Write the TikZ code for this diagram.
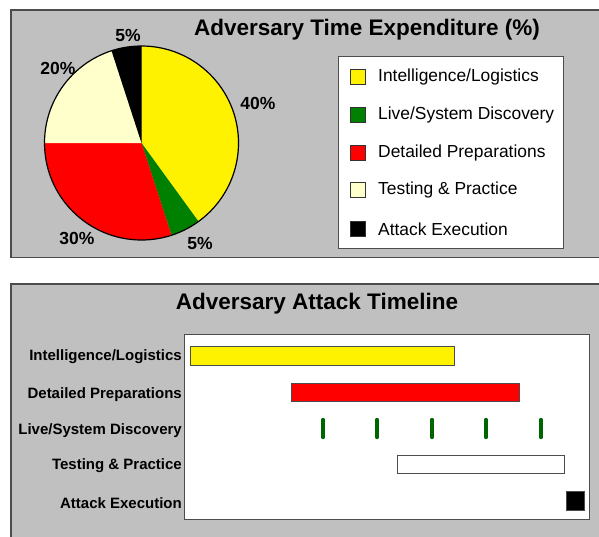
\documentclass[tikz,border=0pt]{standalone}
\usepackage{fontspec}
\setmainfont{Liberation Sans}
\definecolor{panelgray}{HTML}{C0C0C0}
\definecolor{cream}{HTML}{FFFFCC}
\definecolor{dgreen}{HTML}{008000}
\definecolor{tickgreen}{HTML}{006400}
\begin{document}
\begin{tikzpicture}[x=1pt,y=-1pt,
  panel/.style={fill=panelgray,draw=black!70,line width=1.2pt},
  title/.style={font=\fontsize{22.5}{27}\selectfont\bfseries},
  pct/.style={font=\fontsize{17.5}{21}\selectfont\bfseries},
  legtext/.style={font=\fontsize{17.4}{20}\selectfont,anchor=west,inner sep=0pt},
  legsq/.style={draw=black!80,line width=0.6pt,minimum size=15.5pt,inner sep=0pt},
  rowlab/.style={font=\fontsize{15}{18}\selectfont\bfseries,anchor=east,inner sep=0pt},
  bar/.style={draw=black!70,line width=0.8pt},
  tk/.style={draw=tickgreen,line width=3.3pt,line cap=round}]
\useasboundingbox (0,0) rectangle (599,536);
\fill[white] (0,0) rectangle (599,536);
% top panel
\path[panel] (11,10) rectangle (606,257.5);
\node[title] (t1) at (367,30) {Adversary Time Expenditure (\%)};
% pie
\coordinate (pc) at (141.5,143);
\fill[yellow] (pc) -- ++(90:97pt) arc[start angle=90,end angle=-54,radius=97pt] -- cycle;
\fill[dgreen] (pc) -- ++(-54:97pt) arc[start angle=-54,end angle=-72,radius=97pt] -- cycle;
\fill[red] (pc) -- ++(-72:97pt) arc[start angle=-72,end angle=-180,radius=97pt] -- cycle;
\fill[cream] (pc) -- ++(180:97pt) arc[start angle=180,end angle=108,radius=97pt] -- cycle;
\fill[black] (pc) -- ++(108:97pt) arc[start angle=108,end angle=90,radius=97pt] -- cycle;
\draw[black,line width=1.2pt] (pc) circle[radius=97pt];
\node[pct] (p1) at (128,35) {5\%};
\node[pct] (p2) at (58,68) {20\%};
\node[pct] (p3) at (258,103) {40\%};
\node[pct] (p4) at (200,243) {5\%};
\node[pct] (p5) at (77,238) {30\%};
% legend
\draw[fill=white,draw=black!70,line width=0.8pt] (338,56) rectangle (563,248);
\node[legsq,fill=yellow] (s1) at (358,77) {};
\node[legsq,fill=dgreen] (s2) at (358,115) {};
\node[legsq,fill=red] (s3) at (358,153) {};
\node[legsq,fill=cream] (s4) at (358,190) {};
\node[legsq,fill=black] (s5) at (358,229) {};
\node[legtext] (l1) at (378,77) {Intelligence/Logistics};
\node[legtext] (l2) at (378,115) {Live/System Discovery};
\node[legtext] (l3) at (378,153) {Detailed Preparations};
\node[legtext] (l4) at (378,190) {Testing \& Practice};
\node[legtext] (l5) at (378,229) {Attack Execution};
% bottom panel
\path[panel] (11,284) rectangle (606,545);
\node[title] (t2) at (317,304) {Adversary Attack Timeline};
\draw[fill=white,draw=black!70,line width=0.8pt] (184,334) rectangle (589,519);
\node[rowlab] (r1) at (182,357) {Intelligence/Logistics};
\node[rowlab] (r2) at (182,395) {Detailed Preparations};
\node[rowlab] (r3) at (182,431) {Live/System Discovery};
\node[rowlab] (r4) at (182,466) {Testing \& Practice};
\node[rowlab] (r5) at (182,503) {Attack Execution};
\draw[bar,fill=yellow] (190,346) rectangle (454,365);
\draw[bar,fill=red] (291,383) rectangle (519,401);
\foreach \xx in {323,377,432,486,541} \draw[tk] (\xx,419.5) -- (\xx,437.5);
\draw[bar,fill=white] (397,455) rectangle (564,473);
\draw[bar,fill=black] (566,491) rectangle (584,510);
\end{tikzpicture}
\end{document}
